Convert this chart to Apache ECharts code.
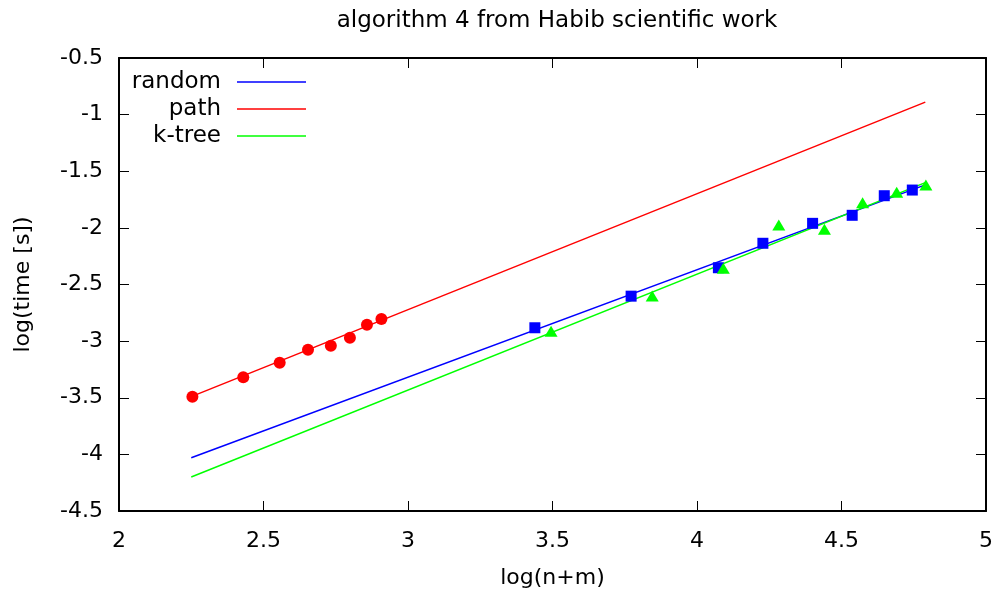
<!DOCTYPE html>
<html>
<head>
<meta charset="utf-8">
<script src="https://cdn.jsdelivr.net/npm/echarts@6/dist/echarts.min.js"></script>
<style>
  html, body { margin: 0; padding: 0; background: #fff; }
  #chart { width: 1000px; height: 599px; }
</style>
</head>
<body>
<div id="chart"></div>
<script>
// Measured points: log(n+m) vs log(time [s])
const pathX   = [2.254, 2.430, 2.556, 2.654, 2.733, 2.799, 2.858, 2.908];
const pathY   = [-3.491, -3.319, -3.190, -3.076, -3.040, -2.970, -2.855, -2.805];
const randomX = [3.439, 3.772, 4.074, 4.228, 4.400, 4.537, 4.648, 4.745];
const randomY = [-2.882, -2.603, -2.352, -2.136, -1.960, -1.889, -1.716, -1.666];
const ktreeX  = [3.495, 3.845, 4.091, 4.283, 4.441, 4.573, 4.691, 4.792];
const ktreeY  = [-2.912, -2.601, -2.357, -1.975, -2.013, -1.778, -1.686, -1.621];

// Fitted lines, evaluated at the ends of the fit range
const fitX      = [2.25, 4.79];
const randomFit = [-4.03, -1.62];
const pathFit   = [-3.49, -0.89];
const ktreeFit  = [-4.20, -1.60];

const xTicks = { min: 2, max: 5, interval: 0.5 };
const yTicks = { min: -4.5, max: -0.5, interval: 0.5 };

const FONT = 'DejaVu Sans';
const pairs = (xs, ys) => xs.map((x, i) => [x, ys[i]]);

const chart = echarts.init(document.getElementById('chart'), null, { renderer: 'canvas' });

const tickStyle = { show: true, inside: true, length: 10, lineStyle: { color: '#000', width: 1 } };
const lineStyle = { show: true, lineStyle: { color: '#000', width: 2 } };

const legendItems = [
  { name: 'random', color: '#0000ff' },
  { name: 'path',   color: '#ff0000' },
  { name: 'k-tree', color: '#00ff00' }
];
const legendGraphics = [];
legendItems.forEach((it, i) => {
  const y = 82 + i * 27;
  legendGraphics.push({
    type: 'text', x: 221, y: y,
    style: { text: it.name, fill: '#000', font: '23px "' + FONT + '"', textAlign: 'right', textVerticalAlign: 'middle' }
  });
  legendGraphics.push({
    type: 'line', shape: { x1: 237, y1: y, x2: 306, y2: y },
    style: { stroke: it.color, lineWidth: 1.5 }
  });
});

const option = {
  animation: false,
  backgroundColor: '#fff',
  textStyle: { fontFamily: FONT },
  title: {
    text: 'algorithm 4 from Habib scientific work',
    left: 552, top: 5, textAlign: 'center',
    textStyle: { fontFamily: FONT, fontSize: 23, fontWeight: 'normal', color: '#000' }
  },
  grid: { left: 119, right: 14, top: 58, bottom: 88, containLabel: false },
  xAxis: [
    {
      type: 'value', position: 'bottom', ...xTicks,
      name: 'log(n+m)', nameLocation: 'middle', nameGap: 56,
      nameTextStyle: { fontFamily: FONT, fontSize: 22, color: '#000' },
      axisLine: lineStyle, axisTick: tickStyle, splitLine: { show: false },
      axisLabel: { fontFamily: FONT, fontSize: 22, color: '#000', margin: 19 }
    },
    {
      type: 'value', position: 'top', ...xTicks,
      axisLine: lineStyle, axisTick: tickStyle, splitLine: { show: false },
      axisLabel: { show: false }
    }
  ],
  yAxis: [
    {
      type: 'value', position: 'left', ...yTicks,
      name: 'log(time [s])', nameLocation: 'middle', nameGap: 85, nameRotate: 90,
      nameTextStyle: { fontFamily: FONT, fontSize: 22, color: '#000' },
      axisLine: lineStyle, axisTick: tickStyle, splitLine: { show: false },
      axisLabel: { fontFamily: FONT, fontSize: 22, color: '#000', margin: 16 }
    },
    {
      type: 'value', position: 'right', ...yTicks,
      axisLine: lineStyle, axisTick: tickStyle, splitLine: { show: false },
      axisLabel: { show: false }
    }
  ],
  series: [
    { name: 'random', type: 'line', data: pairs(fitX, randomFit), showSymbol: false,
      lineStyle: { color: '#0000ff', width: 1.5 }, z: 2 },
    { name: 'path', type: 'line', data: pairs(fitX, pathFit), showSymbol: false,
      lineStyle: { color: '#ff0000', width: 1.5 }, z: 2 },
    { name: 'k-tree', type: 'line', data: pairs(fitX, ktreeFit), showSymbol: false,
      lineStyle: { color: '#00ff00', width: 1.5 }, z: 2 },
    { name: 'path pts', type: 'scatter', data: pairs(pathX, pathY), symbol: 'circle', symbolSize: 12,
      itemStyle: { color: '#ff0000', opacity: 1 }, z: 3 },
    { name: 'random pts', type: 'scatter', data: pairs(randomX, randomY), symbol: 'rect', symbolSize: 11,
      itemStyle: { color: '#0000ff', opacity: 1 }, z: 3 },
    { name: 'k-tree pts', type: 'scatter', data: pairs(ktreeX, ktreeY), symbol: 'triangle', symbolSize: [13, 11],
      itemStyle: { color: '#00ff00', opacity: 1 }, z: 3 }
  ],
  graphic: legendGraphics
};

chart.setOption(option);
</script>
</body>
</html>
